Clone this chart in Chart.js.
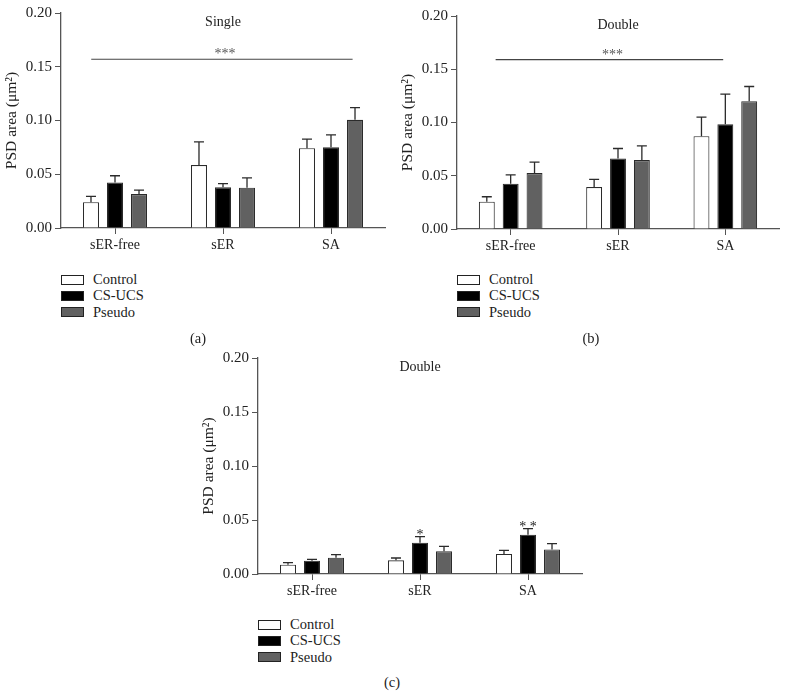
<!DOCTYPE html>
<html>
<head>
<meta charset="utf-8">
<script src="https://cdn.jsdelivr.net/npm/chart.js@4.4.0/dist/chart.umd.min.js"></script>
<style>
  body { margin: 0; background: #fff; width: 788px; height: 696px; position: relative; overflow: hidden;
         font-family: "Liberation Serif", "DejaVu Serif", serif; color: #222; }
  canvas { position: absolute; }
  .legend { position: absolute; font-size: 14.5px; }
  .legend div { height: 16.3px; line-height: 16.3px; position: relative; padding-left: 32px; white-space: nowrap; }
  .legend .box { position: absolute; left: 0; top: 3.5px; width: 21px; height: 8px; border: 1px solid #222; }
  .tag { position: absolute; font-size: 14.5px; transform: translate(-50%, -50%); }
</style>
</head>
<body>
<canvas id="chartA" width="390" height="262" style="left:0;top:0"></canvas>
<canvas id="chartB" width="390" height="262" style="left:396px;top:0"></canvas>
<canvas id="chartC" width="390" height="262" style="left:197px;top:345px"></canvas>

<div class="legend" id="legendA" style="left:61px;top:271px"></div>
<div class="legend" id="legendB" style="left:457px;top:271px"></div>
<div class="legend" id="legendC" style="left:258px;top:616px"></div>
<div class="tag" style="left:198px;top:338px">(a)</div>
<div class="tag" style="left:591px;top:338px">(b)</div>
<div class="tag" style="left:392px;top:682px">(c)</div>

<script>
// categories and groups
const categories = ['sER-free', 'sER', 'SA'];
const groups = ['Control', 'CS-UCS', 'Pseudo'];
const groupColors = ['#ffffff', '#000000', '#616161'];
const yTicks = [0, 0.05, 0.10, 0.15, 0.20];

// (a) Single
const singleControl = [0.0240, 0.0585, 0.0743];
const singleControlErr = [0.0055, 0.0217, 0.0084];
const singleCsUcs = [0.0424, 0.0378, 0.0752];
const singleCsUcsErr = [0.0062, 0.0034, 0.0115];
const singlePseudo = [0.0316, 0.0375, 0.1006];
const singlePseudoErr = [0.0037, 0.0092, 0.0114];

// (b) Double
const doubleControl = [0.0256, 0.0394, 0.0872];
const doubleControlErr = [0.0047, 0.0072, 0.0178];
const doubleCsUcs = [0.0425, 0.0663, 0.0984];
const doubleCsUcsErr = [0.0084, 0.0093, 0.0282];
const doublePseudo = [0.0525, 0.0647, 0.1200];
const doublePseudoErr = [0.0103, 0.0133, 0.0138];

// (c) Double
const double2Control = [0.0086, 0.0127, 0.0185];
const double2ControlErr = [0.0019, 0.0021, 0.0034];
const double2CsUcs = [0.0123, 0.0290, 0.0364];
const double2CsUcsErr = [0.0013, 0.0056, 0.0056];
const double2Pseudo = [0.0151, 0.0210, 0.0228];
const double2PseudoErr = [0.0028, 0.0046, 0.0053];
const double2Stars = ['', '*', '**'];

Chart.defaults.font.family = '"Liberation Serif", "DejaVu Serif", serif';
Chart.defaults.color = '#222';

// error bars, panel titles and significance marks
const panelMarks = {
  id: 'panelMarks',
  afterDatasetsDraw(chart, args, opts) {
    const ctx = chart.ctx, xs = chart.scales.x, ys = chart.scales.y, area = chart.chartArea;
    ctx.save();
    ctx.strokeStyle = '#2b2b2b';
    ctx.lineWidth = 1.3;
    chart.data.datasets.forEach((ds, i) => {
      chart.getDatasetMeta(i).data.forEach((bar, j) => {
        const top = ys.getPixelForValue(ds.data[j]);
        const cap = ys.getPixelForValue(ds.data[j] + ds.errors[j]);
        ctx.beginPath();
        ctx.moveTo(bar.x, top); ctx.lineTo(bar.x, cap);
        ctx.moveTo(bar.x - 5, cap); ctx.lineTo(bar.x + 5, cap);
        ctx.stroke();
      });
    });

    ctx.fillStyle = '#222';
    ctx.font = '14px "Liberation Serif"';
    ctx.textAlign = 'center';
    ctx.textBaseline = 'middle';
    ctx.fillText(opts.title, (area.left + area.right) / 2, area.top + 9);

    ctx.font = '14px "Liberation Serif"';
    if (opts.sig) {
      const y = ys.getPixelForValue(opts.sig.y);
      const x0 = xs.getPixelForValue(opts.sig.from), x1 = xs.getPixelForValue(opts.sig.to);
      ctx.strokeStyle = '#444';
      ctx.lineWidth = 1.2;
      ctx.beginPath(); ctx.moveTo(x0, y); ctx.lineTo(x1, y); ctx.stroke();
      ctx.fillStyle = '#555';
      ctx.textBaseline = 'alphabetic';
      ctx.fillText(opts.sig.label, (x0 + x1) / 2 + 3, y - 1);
    }

    if (opts.stars) {
      const ds = chart.data.datasets[1];
      const meta = chart.getDatasetMeta(1);
      ctx.fillStyle = '#222';
      ctx.textBaseline = 'alphabetic';
      opts.stars.forEach((s, j) => {
        if (!s) return;
        const cap = ys.getPixelForValue(ds.data[j] + ds.errors[j]);
        ctx.fillText(s.split('').join(' '), meta.data[j].x, cap + 2);
      });
    }
    ctx.restore();
  }
};

function makeChart(id, series, errs, pad, xHeight, marks) {
  return new Chart(document.getElementById(id), {
    type: 'bar',
    data: {
      labels: categories,
      datasets: groups.map((g, i) => ({
        label: g,
        data: series[i],
        errors: errs[i],
        backgroundColor: groupColors[i],
        borderColor: '#2b2b2b',
        borderWidth: 1.1,
        categoryPercentage: 0.667,
        barPercentage: 0.667
      }))
    },
    options: {
      responsive: false,
      animation: false,
      layout: { padding: pad },
      plugins: { legend: { display: false }, tooltip: { enabled: false }, panelMarks: marks },
      scales: {
        x: {
          grid: { display: true, drawOnChartArea: false, drawTicks: true, tickLength: 6, offset: false, color: '#555' },
          border: { color: '#555', width: 1.3 },
          ticks: { font: { size: 14 }, padding: 3, color: '#222' },
          afterFit: s => { s.height = xHeight; }
        },
        y: {
          min: 0, max: 0.2,
          afterBuildTicks: s => { s.ticks = yTicks.map(v => ({ value: v })); },
          grid: { drawOnChartArea: false, drawTicks: true, tickLength: 6, color: '#555' },
          border: { color: '#555', width: 1.3 },
          ticks: { font: { size: 15 }, padding: 3, color: '#222', callback: v => v.toFixed(2) },
          title: { display: true, text: 'PSD area (μm²)', font: { size: 15.5 }, padding: { top: 3, bottom: 0 }, color: '#222' },
          afterFit: s => { s.width = 61; }
        }
      }
    },
    plugins: [panelMarks]
  });
}

makeChart('chartA',
  [singleControl, singleCsUcs, singlePseudo],
  [singleControlErr, singleCsUcsErr, singlePseudoErr],
  { top: 13, right: 5, bottom: 0, left: 0 }, 34,
  { title: 'Single', sig: { from: -0.22, to: 2.2, y: 0.157, label: '***' } });

makeChart('chartB',
  [doubleControl, doubleCsUcs, doublePseudo],
  [doubleControlErr, doubleCsUcsErr, doublePseudoErr],
  { top: 16, right: 7, bottom: 0, left: 0 }, 33,
  { title: 'Double', sig: { from: -0.14, to: 1.98, y: 0.159, label: '***' } });

makeChart('chartC',
  [double2Control, double2CsUcs, double2Pseudo],
  [double2ControlErr, double2CsUcsErr, double2PseudoErr],
  { top: 13, right: 5, bottom: 0, left: 0 }, 33,
  { title: 'Double', stars: double2Stars });

['legendA', 'legendB', 'legendC'].forEach(id => {
  document.getElementById(id).innerHTML = groups.map((g, i) =>
    '<div><span class="box" style="background:' + groupColors[i] + '"></span>' + g + '</div>').join('');
});
</script>
</body>
</html>
